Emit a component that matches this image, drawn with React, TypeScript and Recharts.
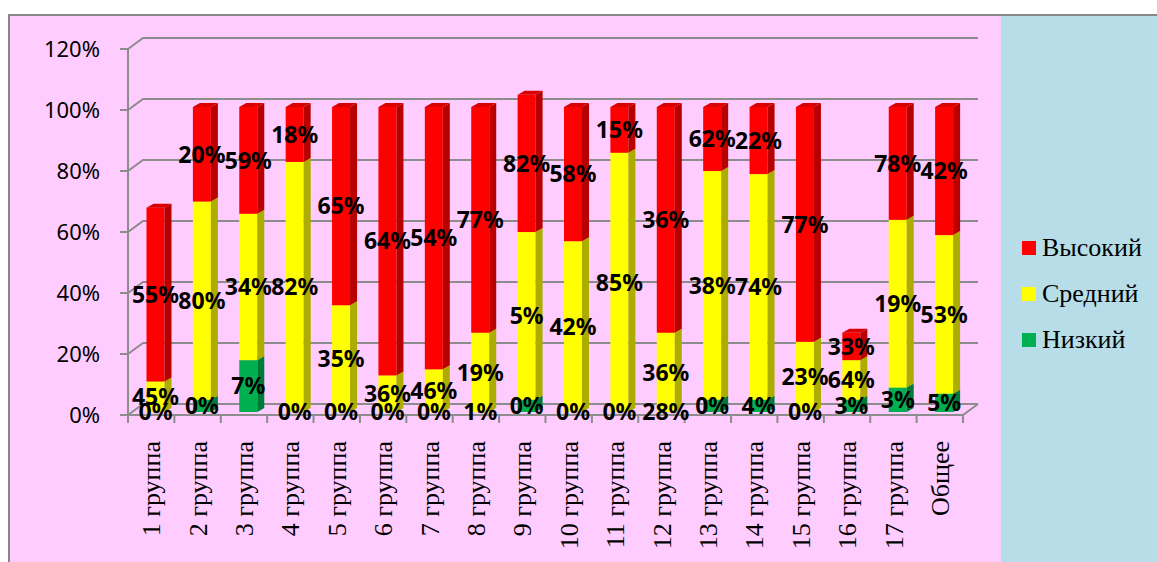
import React from 'react';
import { BarChart, Bar, XAxis, YAxis, CartesianGrid, LabelList } from 'recharts';

const categories = [
  '1 группа', '2 группа', '3 группа', '4 группа', '5 группа', '6 группа',
  '7 группа', '8 группа', '9 группа', '10 группа', '11 группа', '12 группа',
  '13 группа', '14 группа', '15 группа', '16 группа', '17 группа', 'Общее',
];

// segment heights as drawn on the chart (percent of the axis)
const lowValues = [0, 4, 17, 0, 0, 0, 0, 0, 4, 0, 0, 0, 4, 4, 0, 4, 8, 6];
const midValues = [10, 65, 48, 82, 35, 12, 14, 26, 55, 56, 85, 26, 75, 74, 23, 13, 55, 52];
const highValues = [57, 31, 35, 18, 65, 88, 86, 74, 45, 44, 15, 74, 21, 22, 77, 9, 37, 42];

// data labels as printed on the chart
const lowLabels = ['0%', '0%', '7%', '0%', '0%', '0%', '0%', '1%', '0%', '0%', '0%', '28%', '0%', '4%', '0%', '3%', '3%', '5%'];
const midLabels = ['45%', '80%', '34%', '82%', '35%', '36%', '46%', '19%', '5%', '42%', '85%', '36%', '38%', '74%', '23%', '64%', '19%', '53%'];
const highLabels = ['55%', '20%', '59%', '18%', '65%', '64%', '54%', '77%', '82%', '58%', '15%', '36%', '62%', '22%', '77%', '33%', '78%', '42%'];

const yTicks = [0, 20, 40, 60, 80, 100, 120];

const series = [
  { key: 'high', name: 'Высокий', front: '#FF0000', side: '#B80000', top: '#D80000' },
  { key: 'mid', name: 'Средний', front: '#FFFF00', side: '#ADAD00', top: '#E0E000' },
  { key: 'low', name: 'Низкий', front: '#00B050', side: '#007A38', top: '#009A46' },
];

const data = categories.map((name, i) => ({
  name,
  low: lowValues[i],
  mid: midValues[i],
  high: highValues[i],
}));

const PINK = '#FFCCFF';
const BLUE = '#B7DEE8';
const GRID = '#8C8C8C';
const SERIF = "'Times New Roman', 'Liberation Serif', 'DejaVu Serif', serif";
const SANS = "'Noto Sans', 'Open Sans', sans-serif";

// 3d look: back wall offset and bar depth
const WALL_DX = 15;
const WALL_DY = -11;
const SHIFT_X = 4.5;
const SHIFT_Y = -3;
const DEPTH_X = 7;
const DEPTH_Y = -4;

function Box3D(props: any) {
  const { x, y, width, height, front, side, top } = props;
  if (!height || height <= 0) return null;
  const X = x + SHIFT_X;
  const Y = y + SHIFT_Y;
  const R = X + width;
  return (
    <g>
      <rect x={X} y={Y} width={width} height={height} fill={front} />
      <polygon
        points={`${R},${Y} ${R + DEPTH_X},${Y + DEPTH_Y} ${R + DEPTH_X},${Y + height + DEPTH_Y} ${R},${Y + height}`}
        fill={side}
      />
      <polygon
        points={`${X},${Y} ${X + DEPTH_X},${Y + DEPTH_Y} ${R + DEPTH_X},${Y + DEPTH_Y} ${R},${Y}`}
        fill={top}
      />
    </g>
  );
}

function GridLine(props: any) {
  const { x1, y1, x2 } = props;
  return (
    <path
      d={`M${x1},${y1} L${x1 + WALL_DX},${y1 + WALL_DY} L${x2 + WALL_DX},${y1 + WALL_DY}`}
      stroke={GRID}
      strokeWidth={2}
      fill="none"
    />
  );
}

function CategoryTick(props: any) {
  const { x, y, payload, index, visibleTicksCount } = props;
  const half = payload?.offset ?? 23.2;
  const last = index === (visibleTicksCount ?? categories.length) - 1;
  return (
    <g>
      <line x1={x - half} y1={y} x2={x - half} y2={y + 8} stroke={GRID} strokeWidth={2} />
      {last && (
        <g>
          <line x1={x + half} y1={y} x2={x + half} y2={y + 8} stroke={GRID} strokeWidth={2} />
          <line x1={x + half} y1={y} x2={x + half + WALL_DX} y2={y + WALL_DY} stroke={GRID} strokeWidth={2} />
        </g>
      )}
      <text
        x={x}
        y={y + 26}
        transform={`rotate(-90, ${x}, ${y + 26})`}
        textAnchor="end"
        dy="0.35em"
        fontFamily={SERIF}
        fontSize={26}
        fill="#000"
      >
        {payload.value}
      </text>
    </g>
  );
}

// all segment labels are drawn from the top series so they sit above every bar
function SegmentLabels(props: any) {
  const vb = props.viewBox ?? props;
  const i = props.index;
  if (i == null || !vb) return null;
  const { x, y, width, height } = vb;
  const ppu = height / highValues[i];
  const cx = x + SHIFT_X + width / 2;
  const redBottom = y + height + SHIFT_Y;
  const midH = midValues[i] * ppu;
  const lowH = lowValues[i] * ppu;
  const items = [
    { text: highLabels[i], cy: y + SHIFT_Y + height / 2 },
    { text: midLabels[i], cy: redBottom + midH / 2 },
    { text: lowLabels[i], cy: redBottom + midH + lowH / 2 },
  ];
  return (
    <g>
      {items.map((it, k) => (
        <text
          key={k}
          x={cx}
          y={it.cy}
          dy="0.36em"
          textAnchor="middle"
          fontFamily={SANS}
          fontWeight="bold"
          fontSize={23}
          fill="#000"
        >
          {it.text}
        </text>
      ))}
    </g>
  );
}

export default function App() {
  const stackOrder = [series[2], series[1], series[0]];
  return (
    <div
      style={{
        position: 'fixed',
        left: 8,
        top: 14,
        right: 0,
        bottom: 0,
        boxSizing: 'border-box',
        borderTop: '2px solid #878787',
        borderLeft: '2px solid #878787',
        background: PINK,
        overflow: 'hidden',
      }}
    >
      <div style={{ position: 'absolute', left: 991, top: 0, right: 0, bottom: 0, background: BLUE }} />
      <div style={{ position: 'absolute', left: 0, top: 0 }}>
        <BarChart
          width={1147}
          height={546}
          data={data}
          barSize={18}
          margin={{ top: 33, right: 194, bottom: 0, left: 0 }}
        >
          <CartesianGrid vertical={false} horizontal={(p: any) => <GridLine {...p} />} />
          <XAxis
            dataKey="name"
            interval={0}
            height={147}
            tickLine={false}
            tickSize={0}
            tickMargin={0}
            axisLine={{ stroke: GRID, strokeWidth: 2 }}
            tick={<CategoryTick />}
          />
          <YAxis
            domain={[0, 120]}
            ticks={yTicks}
            width={118}
            tickFormatter={(v: number) => `${v}%`}
            tickSize={8}
            tickMargin={20}
            axisLine={{ stroke: GRID, strokeWidth: 2 }}
            tickLine={{ stroke: GRID, strokeWidth: 2 }}
            tick={{ fontFamily: SANS, fontSize: 22, fill: '#000' }}
          />
          {stackOrder.map((s) => (
            <Bar
              key={s.key}
              dataKey={s.key}
              name={s.name}
              stackId="a"
              isAnimationActive={false}
              shape={(p: any) => <Box3D {...p} front={s.front} side={s.side} top={s.top} />}
            >
              {s.key === 'high' && <LabelList dataKey="high" content={<SegmentLabels />} />}
            </Bar>
          ))}
        </BarChart>
      </div>
      <div style={{ position: 'absolute', left: 1012, top: 209 }}>
        {series.map((s) => (
          <div key={s.key} style={{ display: 'flex', alignItems: 'center', height: 46 }}>
            <div style={{ width: 14, height: 14, background: s.front, marginRight: 6 }} />
            <span style={{ fontFamily: SERIF, fontSize: 26, color: '#000' }}>{s.name}</span>
          </div>
        ))}
      </div>
    </div>
  );
}
